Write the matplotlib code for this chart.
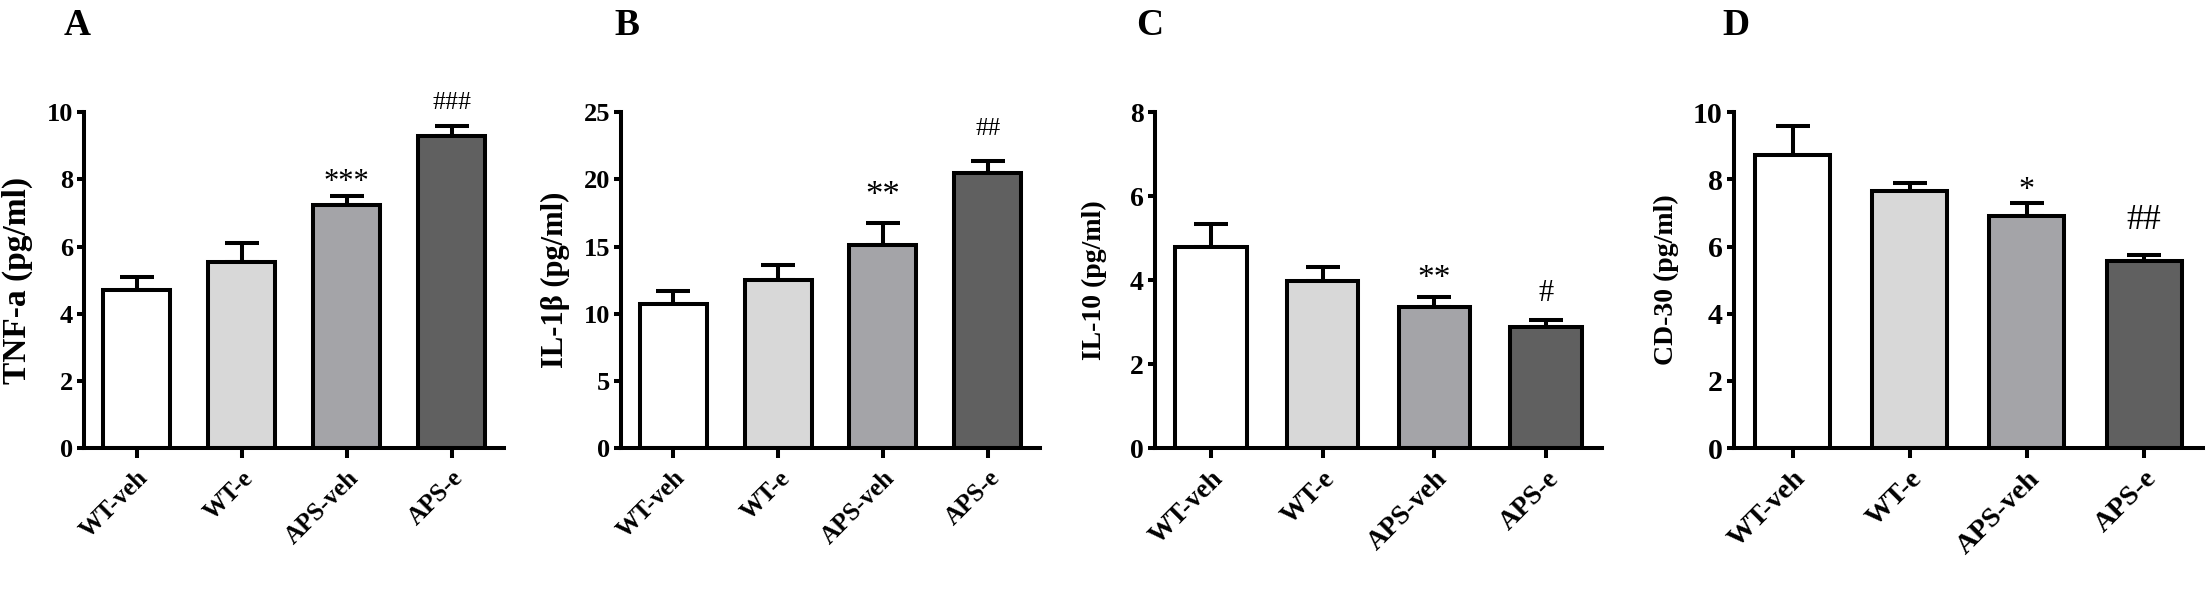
import numpy as np
import matplotlib
matplotlib.use("Agg")
import matplotlib.pyplot as plt

plt.rcParams['font.family'] = ['Liberation Serif', 'DejaVu Serif']

groups = ["WT-veh", "WT-e", "APS-veh", "APS-e"]
colors = ["#FFFFFF", "#D8D8D8", "#A4A4A8", "#606060"]

# means and upper error (SEM) per panel
tnf_mean = [4.72, 5.55, 7.24, 9.28]
tnf_err = [0.36, 0.55, 0.26, 0.31]
il1b_mean = [10.7, 12.5, 15.1, 20.45]
il1b_err = [0.96, 1.1, 1.65, 0.92]
il10_mean = [4.78, 3.97, 3.36, 2.88]
il10_err = [0.55, 0.34, 0.23, 0.17]
cd30_mean = [8.71, 7.65, 6.90, 5.58]
cd30_err = [0.88, 0.23, 0.38, 0.17]

tnf_marks = ["", "", "***", "###"]
il1b_marks = ["", "", "**", "##"]
il10_marks = ["", "", "**", "#"]
cd30_marks = ["", "", "*", "##"]

# (fontsize, offset in points) for the star / hash marks of each panel
panels = [
    dict(letter="A", ylabel="TNF-a (pg/ml)", mean=tnf_mean, err=tnf_err, marks=tnf_marks,
         ymax=10, ystep=2, rect=[0.0381, 0.248, 0.1904, 0.564], lab_x=-0.122, lab_fs=24,
         letter_x=0.035, star=(22, 10.1), hash=(18.5, 16.6), xfs=18, yfs=19),
    dict(letter="B", ylabel="IL-1β (pg/ml)", mean=il1b_mean, err=il1b_err, marks=il1b_marks,
         ymax=25, ystep=5, rect=[0.2815, 0.248, 0.1900, 0.564], lab_x=-0.122, lab_fs=22,
         letter_x=0.284, star=(25, 19.1), hash=(18, 23), xfs=18, yfs=19),
    dict(letter="C", ylabel="IL-10 (pg/ml)", mean=il10_mean, err=il10_err, marks=il10_marks,
         ymax=8, ystep=2, rect=[0.5236, 0.248, 0.2026, 0.564], lab_x=-0.107, lab_fs=20,
         letter_x=0.521, star=(24, 13.5), hash=(22, 19.4), xfs=19.5, yfs=20),
    dict(letter="D", ylabel="CD-30 (pg/ml)", mean=cd30_mean, err=cd30_err, marks=cd30_marks,
         ymax=10, ystep=2, rect=[0.786, 0.248, 0.2125, 0.564], lab_x=-0.117, lab_fs=20,
         letter_x=0.787, star=(23, 9.2), hash=(25, 24.5), xfs=20.5, yfs=21.5),
]

fig = plt.figure(figsize=(22.06, 5.96), dpi=100)
x = np.arange(len(groups))
lw = 2.9

for p in panels:
    ax = fig.add_axes(p["rect"])
    # upper error bars only, drawn first so bars cover the stem bottom
    ax.errorbar(x, p["mean"], yerr=[np.zeros(len(x)), p["err"]], fmt="none",
                ecolor="black", elinewidth=lw, capsize=12, capthick=lw, zorder=1)
    ax.bar(x, p["mean"], width=0.64, color=colors, edgecolor="black",
           linewidth=lw, zorder=2)
    for xi, m, e, s in zip(x, p["mean"], p["err"], p["marks"]):
        if s:
            fs, off = p["star"] if "*" in s else p["hash"]
            ax.annotate(s, (xi, m + e), xytext=(0, off),
                        textcoords="offset points", ha="center", va="center",
                        fontsize=fs)
    ax.set_xlim(-0.5, 3.5)
    ax.set_ylim(0, p["ymax"])
    ax.set_yticks(np.arange(0, p["ymax"] + 0.1, p["ystep"]))
    ax.set_xticks(x)
    ax.set_xticklabels(groups, rotation=45, ha="right", rotation_mode="anchor",
                       fontsize=p["xfs"], fontweight="bold")
    for t in ax.get_yticklabels():
        t.set_fontsize(p["yfs"])
        t.set_fontweight("bold")
    ax.spines["top"].set_visible(False)
    ax.spines["right"].set_visible(False)
    ax.spines["left"].set_linewidth(lw)
    ax.spines["bottom"].set_linewidth(lw)
    ax.spines["left"].set_capstyle("projecting")
    ax.tick_params(axis="y", length=5, width=lw, pad=3)
    ax.tick_params(axis="x", length=7, width=lw, pad=6)
    ax.set_ylabel(p["ylabel"], fontsize=p["lab_fs"], fontweight="bold")
    ax.yaxis.set_label_coords(p["lab_x"], 0.5)
    fig.text(p["letter_x"], 0.958, p["letter"], fontsize=27, fontweight="bold",
             ha="center", va="center")

fig.savefig("out.png", dpi=100)
